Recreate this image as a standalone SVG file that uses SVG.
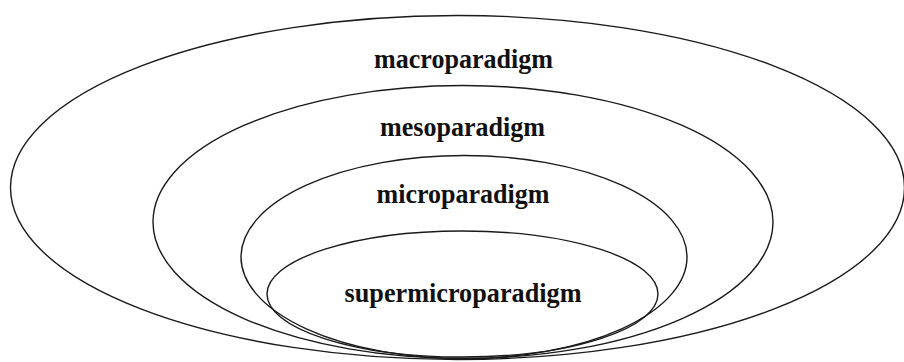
<svg xmlns="http://www.w3.org/2000/svg" width="904" height="362" viewBox="0 0 904 362">
<style>
.e{fill:none;stroke:#1a1a1a;stroke-width:1.4}
.t{font-family:"Liberation Serif","Times New Roman",serif;font-weight:bold;font-size:26.5px;fill:#111;text-anchor:middle}
</style>
<rect width="904" height="362" fill="#fff"/>
<g id="macro">
<ellipse class="e" cx="457.5" cy="187.5" rx="447" ry="172"/>
<text class="t" x="463.5" y="67.5" textLength="179" lengthAdjust="spacingAndGlyphs">macroparadigm</text>
</g>
<g id="meso">
<ellipse class="e" cx="463" cy="222" rx="310" ry="136.5"/>
<text class="t" x="462.5" y="136" textLength="165" lengthAdjust="spacingAndGlyphs">mesoparadigm</text>
</g>
<g id="micro">
<ellipse class="e" cx="464" cy="257" rx="223" ry="101.5"/>
<text class="t" x="463" y="203" textLength="173" lengthAdjust="spacingAndGlyphs">microparadigm</text>
</g>
<g id="supermicro">
<ellipse class="e" cx="462.5" cy="294" rx="195.5" ry="63"/>
<text class="t" x="463" y="301.5" textLength="237" lengthAdjust="spacingAndGlyphs">supermicroparadigm</text>
</g>
</svg>
